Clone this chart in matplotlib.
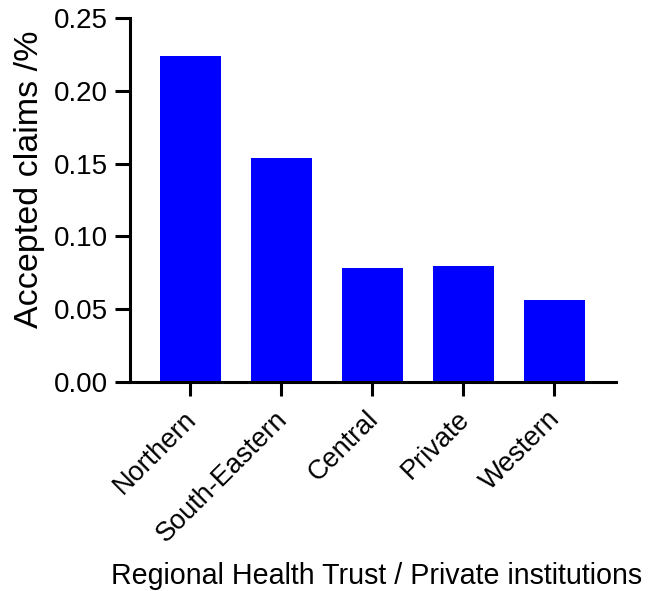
import matplotlib
matplotlib.use("Agg")
import matplotlib.pyplot as plt
from matplotlib.transforms import ScaledTranslation

# 数据
regions = ["Northern", "South-Eastern", "Central", "Private", "Western"]
accepted = [0.224, 0.154, 0.078, 0.080, 0.056]
y_ticks = [0.00, 0.05, 0.10, 0.15, 0.20, 0.25]

plt.rcParams['font.family'] = ['Liberation Sans', 'DejaVu Sans']

fig = plt.figure(figsize=(6.52, 5.91), dpi=100)
ax = fig.add_axes([130 / 652, 1 - 382 / 591, (616 - 130) / 652, (382 - 18) / 591])

ax.bar(range(len(regions)), accepted, width=0.67, color="#0000FF")

ax.set_xlim(-0.66, 4.68)
ax.set_ylim(0, 0.25)
ax.set_yticks(y_ticks)
ax.set_yticklabels([f"{v:.2f}" for v in y_ticks], fontsize=20)
ax.set_xticks(range(len(regions)))
ax.set_xticklabels(regions, rotation=45, ha="right", rotation_mode="anchor", fontsize=19.5)

# 只保留左边和下边的坐标轴
ax.spines["top"].set_visible(False)
ax.spines["right"].set_visible(False)
for s in ["left", "bottom"]:
    ax.spines[s].set_linewidth(2.2)
ax.tick_params(axis="y", width=2.2, length=11, pad=5)
ax.tick_params(axis="x", width=2.2, length=10, pad=5)

ax.set_ylabel("Accepted claims /%", fontsize=24.5)
ax.yaxis.set_label_coords(-0.174, 0.558)
ax.set_xlabel("Regional Health Trust / Private institutions", fontsize=20.6)
ax.xaxis.set_label_coords(0.507, -0.495)

# 先画一次，再把斜着的刻度标签往左下移动
fig.canvas.draw()
offset = ScaledTranslation(-7 / 100, -3 / 100, fig.dpi_scale_trans)
for tick in ax.xaxis.get_major_ticks():
    tick.label1.set_transform(tick.label1.get_transform() + offset)

fig.savefig("out.png", dpi=100)
